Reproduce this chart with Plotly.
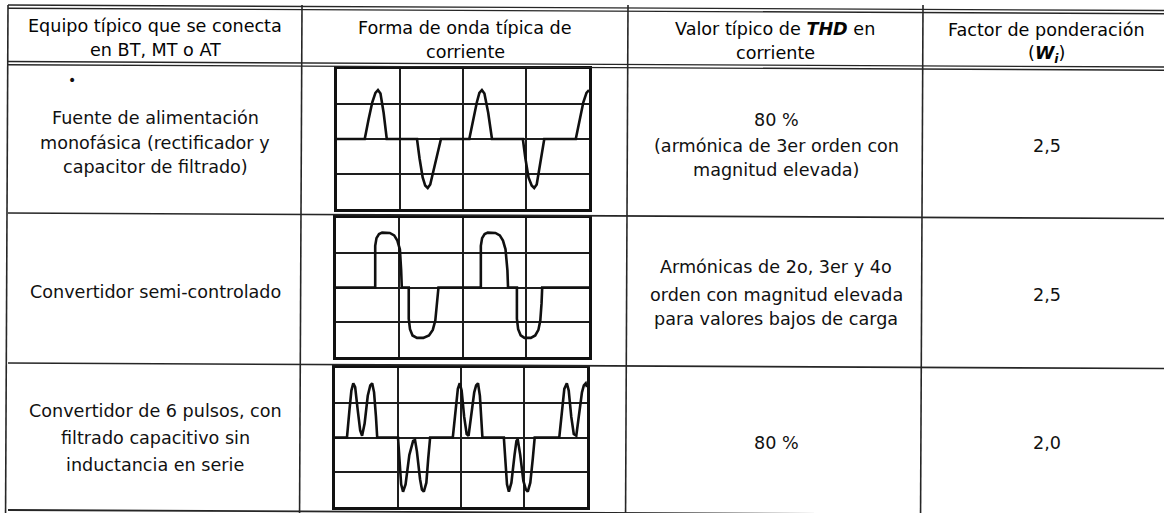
import plotly.graph_objects as go

W, H = 1164, 513

# ---------------- data (text content) ----------------
header_col1 = ["Equipo típico que se conecta", "en BT, MT o AT"]
header_col2 = ["Forma de onda típica de", "corriente"]
header_col3 = ["Valor típico de <b><i>THD</i></b> en", "corriente"]
header_col4 = ["Factor de ponderación", "(<b><i>W<sub>i</sub></i></b>)"]

equipo = [
    ["Fuente de alimentación", "monofásica (rectificador y", "capacitor de filtrado)"],
    ["Convertidor semi-controlado"],
    ["Convertidor de 6 pulsos, con", "filtrado capacitivo sin", "inductancia en serie"],
]
thd = [
    ["80 %", "(armónica de 3er orden con", "magnitud elevada)"],
    ["Armónicas de 2o, 3er y 4o", "orden con magnitud elevada", "para valores bajos de carga"],
    ["80 %"],
]
factor = ["2,5", "2,5", "2,0"]

# ---------------- waveform samples (divisions: x 0..4, y -2..2) ----------------
wave1_x = [0, 0.44, 0.50, 0.56, 0.61, 0.65, 0.69, 0.74, 0.79,
           1.27, 1.31, 1.36, 1.40, 1.44, 1.48, 1.56, 1.65,
           2.10, 2.16, 2.22, 2.26, 2.30, 2.34, 2.40, 2.46,
           2.95, 2.99, 3.04, 3.09, 3.13, 3.17, 3.23, 3.29,
           3.79, 3.85, 3.91, 3.96, 4.0]
wave1_y = [0, 0, 0.55, 1.05, 1.32, 1.40, 1.30, 0.75, 0,
           0, -0.55, -1.10, -1.33, -1.40, -1.30, -0.70, 0,
           0, 0.55, 1.05, 1.32, 1.40, 1.30, 0.75, 0,
           0, -0.55, -1.10, -1.33, -1.40, -1.30, -0.70, 0,
           0, 0.55, 1.05, 1.32, 1.40]

wave2_x = [0, 0.62, 0.62, 0.64, 0.68, 0.73, 0.85, 0.92, 0.97, 1.01, 1.03, 1.04,
           1.15, 1.15, 1.17, 1.21, 1.28, 1.38, 1.47, 1.53, 1.57, 1.60, 1.62,
           2.29, 2.29, 2.31, 2.35, 2.40, 2.52, 2.59, 2.64, 2.68, 2.71, 2.72,
           2.86, 2.86, 2.88, 2.92, 2.98, 3.08, 3.15, 3.20, 3.23, 3.25, 3.26, 4.0]
wave2_y = [0, 0, 1.20, 1.42, 1.54, 1.58, 1.57, 1.50, 1.35, 1.10, 0.50, 0,
           0, -0.90, -1.20, -1.38, -1.45, -1.45, -1.38, -1.22, -0.95, -0.45, 0,
           0, 1.20, 1.42, 1.54, 1.58, 1.57, 1.50, 1.35, 1.10, 0.50, 0,
           0, -0.90, -1.20, -1.38, -1.45, -1.45, -1.38, -1.22, -0.95, -0.45, 0, 0]

wave3_x = [0, 0.19, 0.23, 0.26, 0.29, 0.32, 0.36, 0.40, 0.43, 0.47, 0.52, 0.56, 0.59, 0.62, 0.65, 0.67,
           1.00, 1.02, 1.05, 1.08, 1.12, 1.18, 1.24, 1.27, 1.30, 1.35, 1.38, 1.41, 1.45, 1.48, 1.51,
           1.87, 1.91, 1.95, 1.98, 2.01, 2.05, 2.09, 2.12, 2.16, 2.21, 2.24, 2.27, 2.30, 2.32, 2.34,
           2.68, 2.70, 2.73, 2.76, 2.80, 2.85, 2.88, 2.90, 2.94, 2.99, 3.03, 3.06, 3.10, 3.14, 3.17,
           3.56, 3.60, 3.64, 3.68, 3.71, 3.75, 3.79, 3.83, 3.87, 3.92, 3.95, 3.98, 4.0]
wave3_y = [0, 0, 0.80, 1.35, 1.56, 1.45, 0.80, 0.20, 0.05, 0.40, 1.20, 1.50, 1.56, 1.30, 0.60, 0,
           0, -0.70, -1.35, -1.56, -1.35, -0.50, -0.10, -0.07, -0.40, -1.20, -1.50, -1.56, -1.30, -0.60, 0,
           0, 0.80, 1.40, 1.56, 1.35, 0.60, 0.10, 0.05, 0.60, 1.30, 1.50, 1.56, 1.20, 0.50, 0,
           0, -0.70, -1.35, -1.56, -1.30, -0.50, -0.10, -0.05, -0.50, -1.25, -1.50, -1.56, -1.30, -0.60, 0,
           0, 0.80, 1.40, 1.56, 1.35, 0.60, 0.10, 0.05, 0.60, 1.30, 1.50, 1.56, 1.45]

waves = [(wave1_x, wave1_y), (wave2_x, wave2_y), (wave3_x, wave3_y)]

# ---------------- layout geometry (pixels) ----------------
TILT = 0.0048  # slight scan rotation
boxes = [(337, 589, 69, 209), (336, 589, 218, 357), (335, 587, 368, 507)]

FONT = "DejaVu Sans"
FS = 17.6
INK = "#111111"


def px(x):
    return x / W


def py(y):
    return 1 - y / H


def ty(x, y):
    return y + TILT * (x - 8)


def tx(x, y):
    return x - TILT * (y - 6)


fig = go.Figure()
fig.update_layout(
    width=W, height=H, margin=dict(l=0, r=0, t=0, b=0),
    paper_bgcolor="white", plot_bgcolor="white", showlegend=False,
)

shapes = []
# horizontal table lines
for y, w in [(5.0, 1.4), (8.2, 1.4), (61.5, 1.4), (64.7, 1.4), (213, 1.6), (363, 1.6), (510, 1.8)]:
    shapes.append(dict(type="line", xref="paper", yref="paper",
                       x0=px(8), x1=px(W + 10), y0=py(ty(8, y)), y1=py(ty(W + 10, y)),
                       line=dict(color="#262626", width=w)))
# vertical table lines
for x in [8, 302, 628, 923]:
    shapes.append(dict(type="line", xref="paper", yref="paper",
                       x0=px(tx(x, 5)), x1=px(tx(x, H + 5)), y0=py(5), y1=py(H + 5),
                       line=dict(color="#262626", width=1.6)))

annotations = []


def txt(x, y, s, size=FS, color=INK):
    annotations.append(dict(x=px(x), y=py(y), xref="paper", yref="paper", text=s,
                            showarrow=False, xanchor="center", yanchor="middle",
                            font=dict(family=FONT, size=size, color=color)))


# header
hdr_y = [25.5, 49.5]
for cx, lines in [(155, header_col1), (465, header_col2), (775, header_col3), (1046, header_col4)]:
    for i, s in enumerate(lines):
        txt(cx, ty(cx, hdr_y[i]), s, color="#050505")

# bullet
txt(72, 80, "•", size=14)

# column 1
col1_y = [[117, 142, 166.5], [291], [410, 437, 464]]
for r, lines in enumerate(equipo):
    for i, s in enumerate(lines):
        txt(155, ty(155, col1_y[r][i]), s)

# column 3
col3_y = [[116.5, 142.5, 166.5], [263.5, 291.5, 315.5], [439]]
for r, lines in enumerate(thd):
    for i, s in enumerate(lines):
        txt(776, ty(776, col3_y[r][i]), s)

# column 4
col4_y = [141, 290, 438]
for r, s in enumerate(factor):
    txt(1047, ty(1047, col4_y[r]), s)

# waveform panels
for k, ((x0, x1, y0, y1), (wx, wy)) in enumerate(zip(boxes, waves)):
    n = "" if k == 0 else str(k + 1)
    axis_style = dict(showgrid=True, dtick=1, tick0=0, gridcolor="#1e1e1e", gridwidth=2,
                      zeroline=False, showline=True, mirror=True, linecolor="#111",
                      linewidth=3, showticklabels=False, ticks="", fixedrange=True)
    fig.update_layout(**{
        f"xaxis{n}": dict(domain=[px(x0), px(x1)], range=[0, 4], anchor=f"y{n}", **axis_style),
        f"yaxis{n}": dict(domain=[py(y1), py(y0)], range=[-2, 2], anchor=f"x{n}", **axis_style),
    })
    fig.add_trace(go.Scatter(x=wx, y=wy, mode="lines", xaxis=f"x{n}", yaxis=f"y{n}",
                             line=dict(color="#101010", width=2.6), hoverinfo="skip",
                             cliponaxis=False))

fig.update_layout(shapes=shapes, annotations=annotations)
fig.write_html("out.html", config={"displayModeBar": False, "staticPlot": True},
               post_script="document.body.style.margin='0';document.body.style.overflow='hidden';")
